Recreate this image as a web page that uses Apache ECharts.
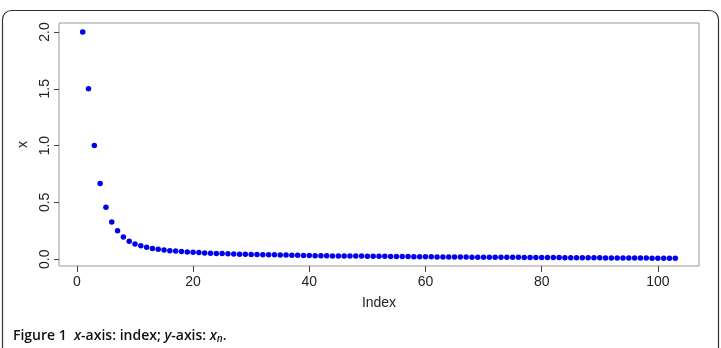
<!DOCTYPE html>
<html>
<head>
<meta charset="utf-8">
<script src="https://cdn.jsdelivr.net/npm/echarts@6/dist/echarts.min.js"></script>
<style>
html,body{margin:0;padding:0;background:#fff;}
#c{width:721px;height:348px;}
</style>
</head>
<body>
<div id="c"></div>
<script>
const xTicks = [0, 20, 40, 60, 80, 100];
const yTicks = [0, 0.5, 1, 1.5, 2];
const values = [
  2.0, 1.5, 1.0, 0.667, 0.457, 0.327, 0.251, 0.195, 0.157, 0.133,
  0.118, 0.104, 0.095, 0.087, 0.081, 0.075, 0.071, 0.067, 0.064, 0.061,
  0.058, 0.055, 0.053, 0.051, 0.049, 0.047, 0.046, 0.044, 0.043, 0.042,
  0.041, 0.040, 0.039, 0.038, 0.037, 0.036, 0.035, 0.034, 0.033, 0.032,
  0.031, 0.031, 0.030, 0.029, 0.029, 0.028, 0.028, 0.027, 0.027, 0.026,
  0.026, 0.025, 0.025, 0.024, 0.024, 0.023, 0.023, 0.022, 0.022, 0.021,
  0.021, 0.020, 0.020, 0.020, 0.019, 0.019, 0.019, 0.018, 0.018, 0.018,
  0.017, 0.017, 0.017, 0.016, 0.016, 0.016, 0.015, 0.015, 0.015, 0.014,
  0.014, 0.014, 0.014, 0.013, 0.013, 0.013, 0.012, 0.012, 0.012, 0.012,
  0.011, 0.011, 0.011, 0.011, 0.010, 0.010, 0.010, 0.010, 0.009, 0.009,
  0.009, 0.009, 0.008
];
const points = values.map((v, i) => [i + 1, v]);

const chart = echarts.init(document.getElementById('c'), null, {renderer: 'canvas'});
const labelFont = {fontFamily: 'Liberation Sans', fontSize: 14, color: '#222'};
chart.setOption({
  animation: false,
  backgroundColor: '#fff',
  grid: {left: 59, right: 22, top: 23, bottom: 82, show: true, borderColor: '#999', borderWidth: 1, backgroundColor: 'transparent'},
  xAxis: {
    type: 'value', min: -3.08, max: 107.08,
    name: 'Index', nameLocation: 'middle', nameGap: 30,
    nameTextStyle: labelFont,
    axisLine: {show: false, onZero: false},
    splitLine: {show: false},
    axisTick: {show: true, length: 6, customValues: xTicks, lineStyle: {color: '#444'}},
    axisLabel: Object.assign({customValues: xTicks, margin: 9}, labelFont)
  },
  yAxis: {
    type: 'value', min: -0.06, max: 2.079,
    name: 'x', nameLocation: 'middle', nameGap: 23, nameRotate: 90,
    nameTextStyle: labelFont,
    axisLine: {show: false, onZero: false},
    splitLine: {show: false},
    axisTick: {show: true, length: 5, customValues: yTicks, lineStyle: {color: '#444'}},
    axisLabel: Object.assign({customValues: yTicks, rotate: 90, margin: 7, formatter: v => v.toFixed(1)}, labelFont)
  },
  series: [{
    type: 'scatter',
    data: points,
    symbol: 'circle',
    symbolSize: 5.5,
    itemStyle: {color: '#0000ee', opacity: 1}
  }],
  graphic: [
    {type: 'rect', shape: {x: 2.5, y: 10.5, width: 716, height: 360, r: 9}, style: {fill: 'none', stroke: '#333', lineWidth: 1.2}, silent: true},
    {type: 'text', left: 13, top: 329, style: {
      rich: {
        b: {fontFamily: 'Open Sans', fontWeight: 600, fontSize: 14, fill: '#111'},
        i: {fontFamily: 'Open Sans', fontWeight: 600, fontStyle: 'italic', fontSize: 14, fill: '#111'},
        s: {fontFamily: 'Open Sans', fontWeight: 600, fontStyle: 'italic', fontSize: 10, fill: '#111', padding: [6, 0, 0, 0]}
      },
      text: '{b|Figure 1  }{i|x}{b|-axis: index; }{i|y}{b|-axis: }{i|x}{s|n}{b|.}'
    }}
  ]
});
</script>
</body>
</html>
